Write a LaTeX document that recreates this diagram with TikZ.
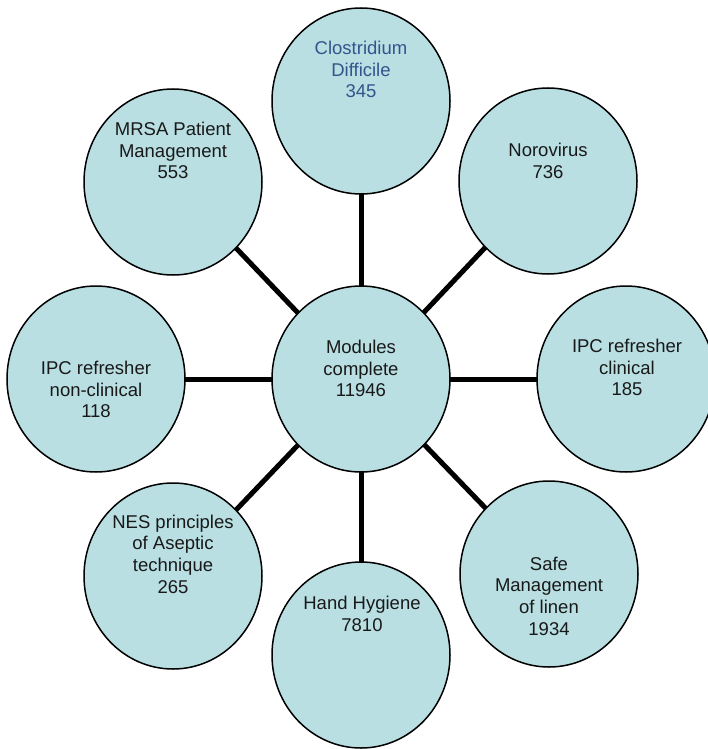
\documentclass[tikz,border=0pt]{standalone}
\usepackage{fontspec}
\setmainfont{Liberation Sans}
\usetikzlibrary{shapes.geometric,backgrounds}
\definecolor{bubblefill}{RGB}{185,223,227}
\definecolor{titleblue}{RGB}{50,85,140}
\definecolor{inktext}{RGB}{25,25,25}
\begin{document}
\begin{tikzpicture}[x=1pt,y=-1pt,
  bubble/.style={ellipse, draw=black, line width=1.5pt, fill=bubblefill,
    minimum width=178pt, minimum height=186pt, inner sep=0pt},
  caption/.style={align=center, text=inktext,
    font=\fontsize{18.5}{21.7}\selectfont},
  spoke/.style={line width=5pt, black}]
\useasboundingbox (0,0) rectangle (708,749);

% hub and the eight module bubbles
\node[bubble] (hub)   at (361,379) {};
\node[bubble] (cdiff) at (361,101) {};
\node[bubble] (noro)  at (548,181) {};
\node[bubble] (ipcc)  at (626,379) {};
\node[bubble] (linen) at (549,574) {};
\node[bubble] (hand)  at (361,655) {};
\node[bubble] (nes)   at (173,576) {};
\node[bubble] (ipcn)  at (96,379)  {};
\node[bubble] (mrsa)  at (173,182) {};

% captions
\node[caption] (t-hub)   at (361,368.5) {Modules\\complete\\11946};
\node[caption, text=titleblue] (t-cdiff) at (361,69.5) {Clostridium\\Difficile\\345};
\node[caption] (t-noro)  at (548,161)   {Norovirus\\736};
\node[caption] (t-ipcc)  at (627,367.5) {IPC refresher\\clinical\\185};
\node[caption] (t-linen) at (549,596)   {Safe\\Management\\of linen\\1934};
\node[caption] (t-hand)  at (362,614)   {Hand Hygiene\\7810};
\node[caption] (t-nes)   at (173,554)   {NES principles\\of Aseptic\\technique\\265};
\node[caption] (t-ipcn)  at (96,389.5)  {IPC refresher\\non-clinical\\118};
\node[caption] (t-mrsa)  at (173,150.5) {MRSA Patient\\Management\\553};

% spokes from the hub, kept behind the bubbles
\begin{pgfonlayer}{background}
  \foreach \n in {cdiff,noro,ipcc,linen,hand,nes,ipcn,mrsa}
    \draw[spoke] (hub.center) -- (\n.center);
\end{pgfonlayer}
\end{tikzpicture}
\end{document}
